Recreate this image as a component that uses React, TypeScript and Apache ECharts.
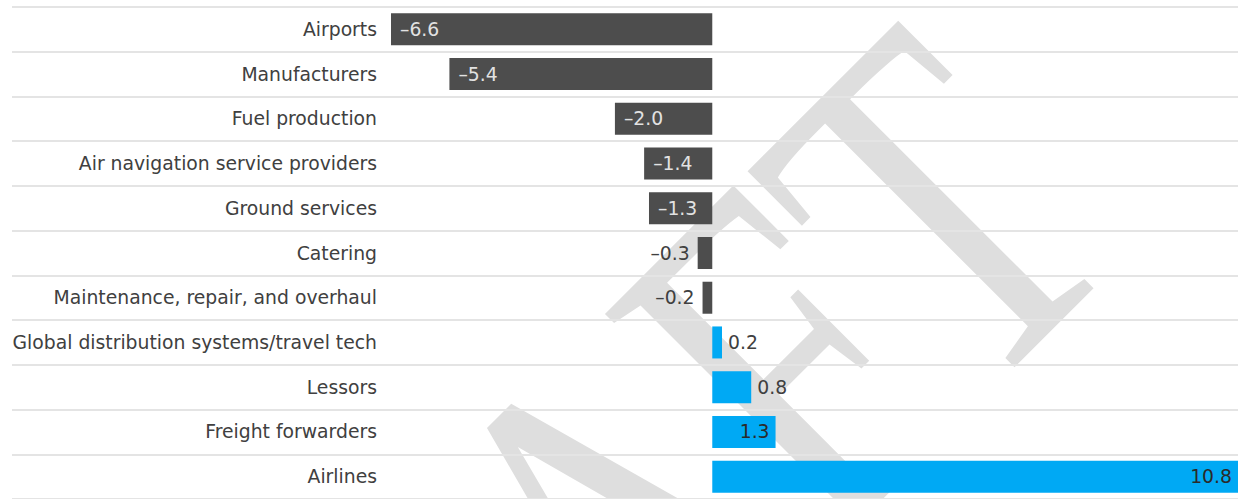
import React, { useEffect, useRef } from 'react';
import * as echarts from 'echarts';

const categories = [
  'Airports',
  'Manufacturers',
  'Fuel production',
  'Air navigation service providers',
  'Ground services',
  'Catering',
  'Maintenance, repair, and overhaul',
  'Global distribution systems/travel tech',
  'Lessors',
  'Freight forwarders',
  'Airlines',
];
const values = [-6.6, -5.4, -2.0, -1.4, -1.3, -0.3, -0.2, 0.2, 0.8, 1.3, 10.8];
const axisMin = -6.6;
const axisMax = 10.8;
const watermarkText = 'DRAFT';

const NEG = '#4d4d4d';
const POS = '#00a9f4';
const FONT = '"DejaVu Sans", "Liberation Sans", Arial, sans-serif';
const FS = 18.8;

function fmt(v: number) {
  return (v < 0 ? '\u2013' : '') + Math.abs(v).toFixed(1);
}

export default function App() {
  const ref = useRef<HTMLDivElement>(null);
  useEffect(() => {
    document.body.style.margin = '0';
    const chart = echarts.init(ref.current!, undefined, { renderer: 'svg' });
    const data = values.map((v) => {
      const inside = Math.abs(v) >= 1;
      let label: any;
      if (v < 0) {
        label = inside
          ? { position: 'insideLeft', distance: 9, color: '#e2e2e2' }
          : { position: 'left', distance: 8, color: '#404040' };
      } else {
        label = inside
          ? { position: 'insideRight', distance: 6, color: '#2a2a2a' }
          : { position: 'right', distance: 6, color: '#404040' };
      }
      return { value: v, itemStyle: { color: v < 0 ? NEG : POS }, label };
    });
    chart.setOption({
      animation: false,
      graphic: {
        elements: [
          {
            type: 'text',
            x: 586,
            y: 557,
            rotation: (45 * Math.PI) / 180,
            scaleX: 0.74,
            z: -10,
            silent: true,
            style: {
              text: watermarkText,
              font: 'normal 500px "Liberation Serif", serif',
              fill: '#dedede',
              textAlign: 'center',
              textVerticalAlign: 'middle',
            },
          },
        ],
      },
      grid: [
        { left: 12, right: 0, top: 7, height: 495, containLabel: false },
        { left: 391, right: 0, top: 7, height: 495, containLabel: false },
      ],
      xAxis: [
        { type: 'value', gridIndex: 0, show: false },
        { type: 'value', gridIndex: 1, min: axisMin, max: axisMax, show: false },
      ],
      yAxis: [
        {
          type: 'category',
          gridIndex: 0,
          data: categories,
          inverse: true,
          axisLine: { show: false },
          axisTick: { show: false },
          axisLabel: { show: false },
          splitLine: { show: true, lineStyle: { color: '#e4e4e4', width: 2 } },
        },
        {
          type: 'category',
          gridIndex: 1,
          data: categories,
          inverse: true,
          axisLine: { show: false },
          axisTick: { show: false },
          splitLine: { show: false },
          axisLabel: { margin: 14, fontSize: FS, color: '#404040', fontFamily: FONT },
        },
      ],
      series: [
        {
          type: 'bar',
          xAxisIndex: 1,
          yAxisIndex: 1,
          barWidth: 32,
          data,
          label: {
            show: true,
            fontSize: FS,
            fontFamily: FONT,
            formatter: (p: any) => fmt(p.value),
          },
        },
      ],
    });
    return () => chart.dispose();
  }, []);
  return <div ref={ref} style={{ width: 1238, height: 499 }} />;
}
